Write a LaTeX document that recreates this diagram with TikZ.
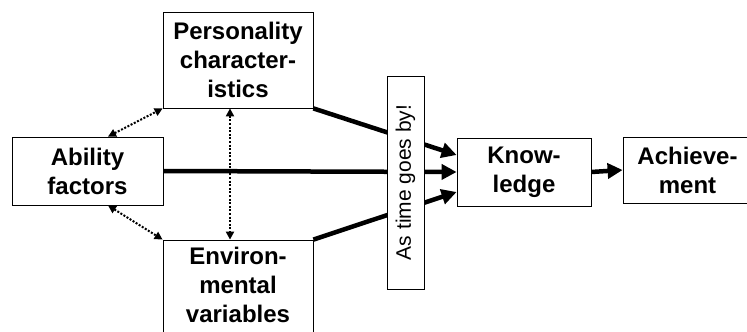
\documentclass[tikz,border=0pt]{standalone}
\usepackage{fontspec}
\setmainfont{Liberation Sans}
\usetikzlibrary{arrows.meta}

\begin{document}
\begin{tikzpicture}[
    x=1pt, y=1pt,
    box/.style={rectangle, draw=black, line width=0.8pt, fill=white, align=center, font=\fontsize{24}{29}\selectfont\bfseries, inner sep=0pt},
    flow/.style={line width=4.5pt, -{Triangle[length=15pt,width=15pt]}},
    link/.style={line width=2pt, dash pattern=on 2pt off 1.6pt, {Triangle[length=8pt,width=8pt]}-{Triangle[length=8pt,width=8pt]}}
]

% frame of the page
\clip (0,0) rectangle (747,332);
\fill[white] (0,0) rectangle (747,332);

% Left column of factors
\node[box, minimum width=150pt, minimum height=96pt] (pers) at (238,272) {Personality\\character-\\istics};
\node[box, minimum width=151pt, minimum height=68pt] (abil) at (87.5,161) {Ability\\factors};
\node[box, minimum width=150pt, minimum height=100pt, text depth=10pt] (env) at (238,42) {Environ-\\mental\\variables};

% Outcomes
\node[box, minimum width=134pt, minimum height=68pt] (know) at (524,160) {Know-\\ledge};
\node[box, minimum width=129pt, minimum height=66pt] (achi) at (687.5,162) {Achieve-\\ment};

% Dotted links between the factors
\draw[link] ([xshift=20.5pt]abil.north) -- (pers.south west);
\draw[link] ([xshift=20.5pt]abil.south) -- (env.north west);
\draw[link] ([xshift=-8pt]pers.south) -- ([xshift=-8pt]env.north);

% Thick arrows into knowledge
\draw[flow] (pers.south east) -- ([yshift=17pt]know.west);
\draw[flow] (abil.east) -- (know.west);
\draw[flow] (env.north east) -- ([yshift=-20pt]know.west);
\draw[flow] (know.east) -- (achi.west);

% Time box on top of the arrows
\node[box, minimum width=213pt, minimum height=37pt, rotate=90, font=\fontsize{21}{24}\selectfont] (time) at (405.5,149.5) {As time goes by!};

\end{tikzpicture}
\end{document}
